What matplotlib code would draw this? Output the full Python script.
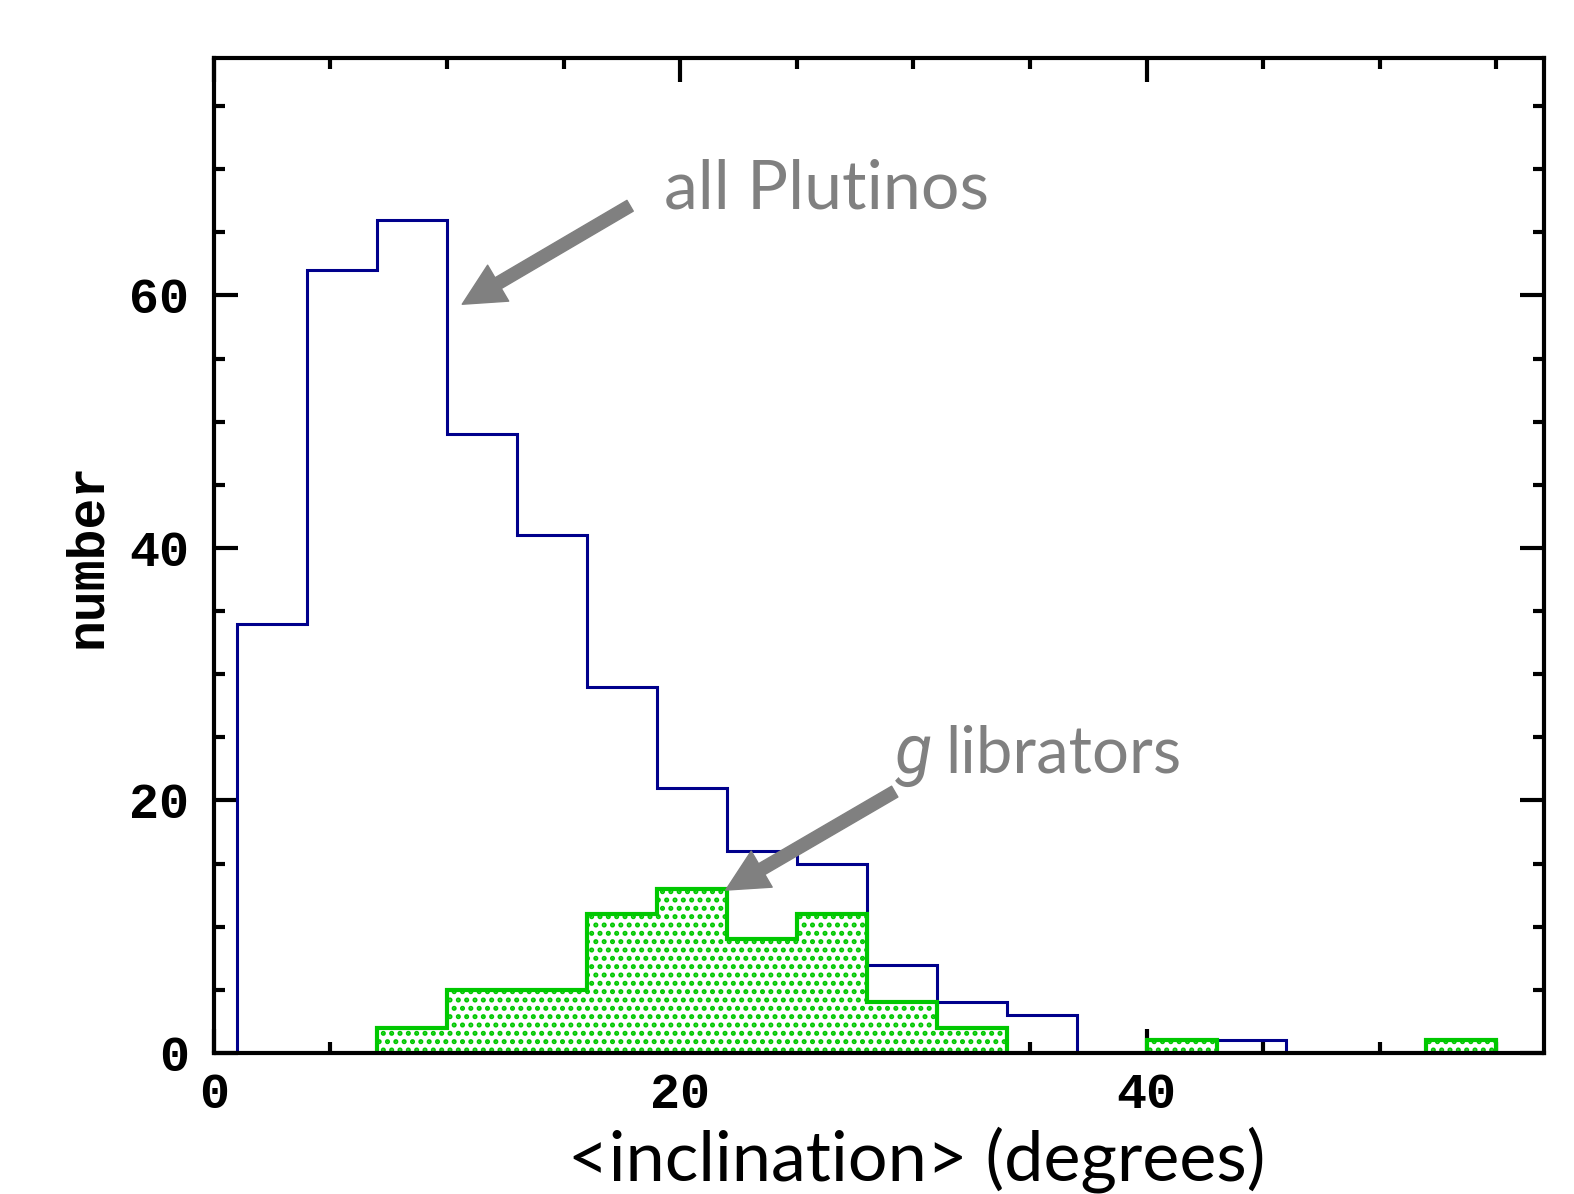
import numpy as np
import matplotlib.pyplot as plt
from matplotlib.ticker import MultipleLocator

# bin edges (degrees) and counts per bin
bin_edges = [1, 4, 7, 10, 13, 16, 19, 22, 25, 28, 31, 34, 37, 40, 43, 46, 49, 52, 55]
all_plutinos = [34, 62, 66, 49, 41, 29, 21, 16, 15, 7, 4, 3, 0, 1, 1, 0, 0, 1]
g_librators = [0, 0, 2, 5, 5, 11, 13, 9, 11, 4, 2, 0, 0, 1, 0, 0, 0, 1]

blue = '#00008c'
green = '#00c800'
grey = '#808080'
tick_font = 'Liberation Mono'
text_font = 'Lato'


def runs(values):
    # contiguous stretches of non-empty bins
    vals = np.asarray(values)
    out, start = [], None
    for i, v in enumerate(vals):
        if v > 0 and start is None:
            start = i
        if (v == 0 or i == len(vals) - 1) and start is not None:
            end = i if v == 0 else i + 1
            out.append((start, end))
            start = None
    return out


plt.rcParams['hatch.linewidth'] = 2.4

fig = plt.figure(figsize=(15.74, 11.94), dpi=100)
ax = fig.add_axes([0.1359, 0.1181, 0.8451, 0.8333])

edges = np.asarray(bin_edges)
for s, e in runs(all_plutinos):
    ax.stairs(all_plutinos[s:e], edges[s:e + 1], color=blue, linewidth=2.2, zorder=2)
for s, e in runs(g_librators):
    ax.stairs(g_librators[s:e], edges[s:e + 1], fill=True, facecolor='white',
              edgecolor=green, hatch='..', linewidth=0, zorder=3)
    ax.stairs(g_librators[s:e], edges[s:e + 1], color=green, linewidth=3.0, zorder=4)

ax.set_xlim(0, 57.05)
ax.set_ylim(0, 78.8)

ax.xaxis.set_major_locator(MultipleLocator(20))
ax.xaxis.set_minor_locator(MultipleLocator(5))
ax.yaxis.set_major_locator(MultipleLocator(20))
ax.yaxis.set_minor_locator(MultipleLocator(5))
ax.tick_params(which='both', direction='in', top=True, right=True, width=3, color='black')
ax.tick_params(which='major', length=17)
ax.tick_params(which='minor', length=8)
ax.tick_params(axis='x', which='major', pad=14)
ax.tick_params(axis='y', which='major', pad=18)
for lab in ax.get_xticklabels() + ax.get_yticklabels():
    lab.set_fontfamily(tick_font)
    lab.set_fontweight('bold')
    lab.set_fontsize(36)
for sp in ax.spines.values():
    sp.set_linewidth(3)
    sp.set_zorder(5)

ax.set_ylabel('number', fontsize=37, fontfamily=tick_font, fontweight='bold', labelpad=12)

fig.text(0.5826, 0.011, '<inclination> (degrees)', ha='center', va='baseline',
         fontsize=50.5, fontfamily=text_font, color='black')

# annotations
arrow = dict(arrowstyle='simple,head_length=30,head_width=30,tail_width=9',
             color=grey, mutation_scale=1, shrinkA=0, shrinkB=0)
ax.annotate('', xy=(10.65, 59.3), xytext=(17.85, 67.1), arrowprops=arrow, zorder=6)
ax.text(19.3, 66.9, 'all Plutinos', fontsize=49, fontfamily=text_font, color=grey,
        va='baseline', ha='left')
ax.annotate('', xy=(21.95, 12.9), xytext=(29.2, 20.7), arrowprops=arrow, zorder=6)
ax.text(29.2, 22.2, 'g', fontsize=49, fontfamily='Roboto', style='italic', color=grey,
        va='baseline', ha='left')
ax.text(31.35, 22.2, 'librators', fontsize=47, fontfamily=text_font, color=grey,
        va='baseline', ha='left')

plt.savefig('out.png', dpi=100)
